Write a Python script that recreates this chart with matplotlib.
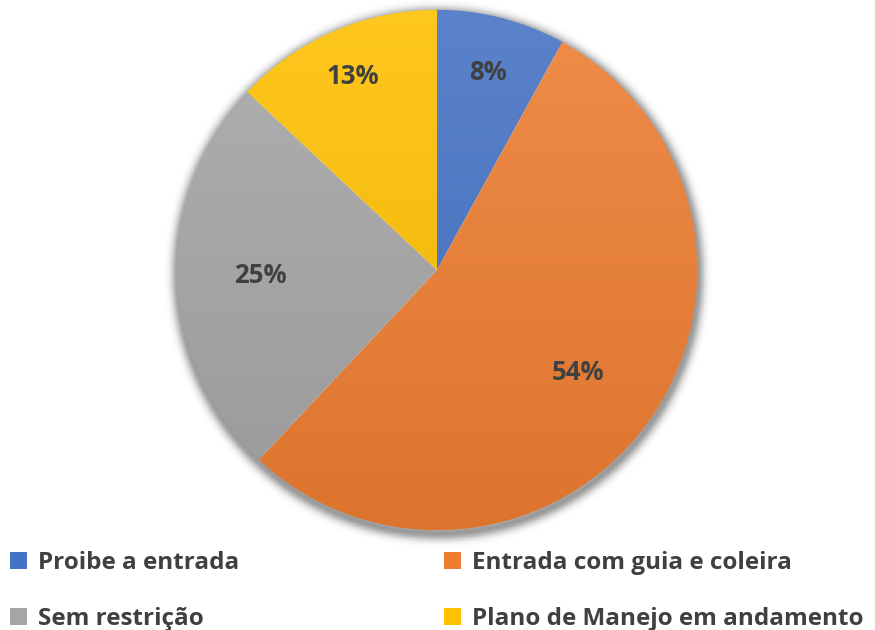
import matplotlib.pyplot as plt
import numpy as np
from matplotlib.colors import to_rgb
from matplotlib.patches import Patch

labels = ["Proibe a entrada", "Entrada com guia e coleira", "Sem restrição", "Plano de Manejo em andamento"]
values = [8, 54, 25, 13]
colors = ["#4472C4", "#ED7D31", "#A5A5A5", "#FFC000"]
label_dist = [0.785, 0.67, 0.68, 0.81]

plt.rcParams['font.family'] = ['Open Sans', 'DejaVu Sans']
text_col = "#404040"

fig = plt.figure(figsize=(8.75, 6.3), dpi=100)
# pie box: radius 260 px, centre at (437, 270) px from top, with a margin for the shadow
ax = fig.add_axes([(437 - 281) / 875, (630 - 551) / 630, 562 / 875, 562 / 630])
ax.axis('off')

wedges, texts, autotexts = ax.pie(values, startangle=90, counterclock=False, radius=1,
                                  autopct=lambda p: f"{p:.0f}%", pctdistance=0.7,
                                  wedgeprops=dict(linewidth=0),
                                  textprops=dict(fontsize=18.5, fontweight='bold', color=text_col))

# vertical gradient fill per slice, lighter at top
yy = np.linspace(1, 0, 256)[:, None]
for w, c, t, d in zip(wedges, colors, autotexts, label_dist):
    base = np.array(to_rgb(c))
    top = base + (1 - base) * 0.12
    bot = base * 0.93
    grad = (bot[None, None, :] * (1 - yy[..., None]) + top[None, None, :] * yy[..., None])
    grad = np.repeat(grad, 2, axis=1)
    w.set_facecolor('none')
    im = ax.imshow(grad, extent=[-1, 1, -1, 1], aspect='auto', zorder=1, interpolation='bilinear')
    im.set_clip_path(w)
    ang = np.deg2rad((w.theta1 + w.theta2) / 2)
    t.set_position((d * np.cos(ang), d * np.sin(ang)))
    t.set_zorder(3)

# soft shadow around pie
n = 400
gx, gy = np.meshgrid(np.linspace(-1.08, 1.08, n), np.linspace(1.08, -1.08, n))
r = np.hypot(gx - 0.004, gy + 0.014)
alpha = np.clip(np.exp(-((r - 1) / 0.028) ** 2) * 0.4, 0, 1) * (r > 0.98)
shadow = np.zeros((n, n, 4))
shadow[..., 3] = alpha
ax.imshow(shadow, extent=[-1.08, 1.08, -1.08, 1.08], zorder=0, aspect='auto')
ax.set_xlim(-1.08, 1.08)
ax.set_ylim(-1.08, 1.08)

handles = [Patch(facecolor=c, edgecolor='none') for c in colors]
leg_kw = dict(frameon=False, handlelength=0.7, handleheight=0.7,
              handletextpad=0.45, labelspacing=1.3, borderaxespad=0, borderpad=0,
              prop=dict(family=['Open Sans', 'DejaVu Sans'], size=17.5, weight='bold'),
              labelcolor=text_col)
l1 = fig.legend([handles[0], handles[2]], [labels[0], labels[2]],
                loc='upper left', bbox_to_anchor=(10 / 875, 1 - 551 / 630), **leg_kw)
l2 = fig.legend([handles[1], handles[3]], [labels[1], labels[3]],
                loc='upper left', bbox_to_anchor=(444 / 875, 1 - 551 / 630), **leg_kw)

fig.savefig("out.png", dpi=100)
